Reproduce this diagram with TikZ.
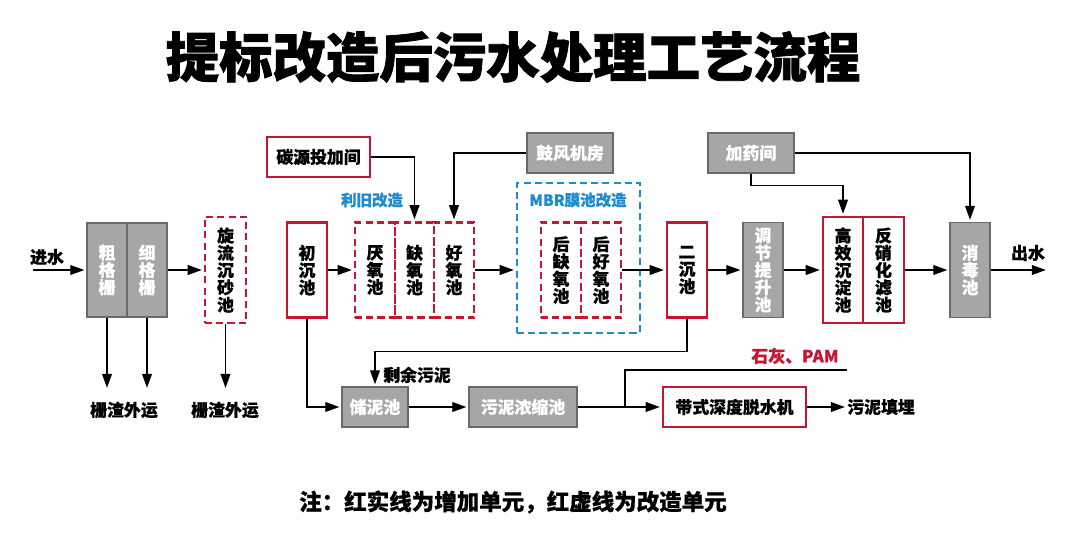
\documentclass[tikz,border=0pt]{standalone}
\usepackage{fontspec}
\setmainfont{Noto Sans CJK SC}[BoldFeatures={FakeBold=0.6}]
\newfontfamily\titlefont[FakeBold=1.5]{Noto Sans CJK SC}
\usetikzlibrary{arrows.meta,positioning}
\definecolor{gaired}{RGB}{200,22,50}
\definecolor{gaiblue}{RGB}{30,140,205}
\definecolor{boxgray}{RGB}{166,166,166}
\definecolor{edgegray}{RGB}{105,105,105}
\tikzset{
  unit/.style={minimum width=1cm,minimum height=2.375cm,inner sep=0pt,align=center,
    font=\fontsize{12}{12.3}\selectfont\bfseries},
  graybox/.style={unit,fill=boxgray,draw=edgegray,line width=0.8pt,text=white},
  newbox/.style={unit,draw=gaired,line width=1.6pt,fill=white},
  oldbox/.style={unit,draw=gaired,line width=1.6pt,dash pattern=on 5pt off 3pt},
  flow/.style={-{Triangle[length=10pt,width=7pt]},line width=0.9pt,shorten >=1.5pt},
  tag/.style={inner sep=0pt,font=\fontsize{12}{12}\selectfont\bfseries},
}

\begin{document}
\begin{tikzpicture}[x=0.025cm,y=-0.025cm]
\useasboundingbox (0,0) rectangle (1080,553);
%
% title
\node[inner sep=0pt,font=\titlefont\fontsize{38}{38}\selectfont\bfseries] (title) at (513,57)
  {提标改造后污水处理工艺流程};
%
% pretreatment
\node[tag] (jinshui) at (47,257) {进水};
\coordinate (inlet) at (33,270);
\node[graybox,minimum height=2.35cm] (cu) at (107,270) {粗\\格\\栅};
\node[graybox,minimum height=2.35cm] (xi) at (147,270) {细\\格\\栅};
\node[oldbox,minimum width=1.025cm,minimum height=2.65cm] (xuanliu) at (225.5,270)
  {旋\\流\\沉\\砂\\池};
\node[tag] (zha1) at (124,410) {栅渣外运};
\node[tag] (zha2) at (225,410) {栅渣外运};
\coordinate (drop) at (0,390);
%
% primary settling + biological
\node[newbox] (chuchen) at (307,270) {初\\沉\\池};
\node[newbox,minimum width=2.575cm,minimum height=1cm] (tanyuan) at (318.5,157) {碳源投加间};
\node[graybox,minimum width=2.15cm,minimum height=1cm] (gufeng) at (570,153) {鼓风机房};
\node[inner sep=0pt,text=gaiblue,font=\fontsize{11}{11}\selectfont\bfseries] (liyiu) at (372,200) {利旧改造};
\node[oldbox] (yan) at (375,270) {厌\\氧\\池};
\node[oldbox,minimum width=0.975cm] (que) at (414.5,270) {缺\\氧\\池};
\node[oldbox] (hao) at (454,270) {好\\氧\\池};
%
% MBR
\node[draw=gaiblue,line width=1.6pt,dash pattern=on 5pt off 3pt,
  minimum width=3.075cm,minimum height=3.75cm,inner sep=0pt] (mbr) at (578.5,258) {};
\node[inner sep=0pt,text=gaiblue,font=\fontsize{11}{11}\selectfont\bfseries] (mbrtag) at (578,200) {MBR膜池改造};
\node[oldbox] (houque) at (561,270) {后\\缺\\氧\\池};
\node[oldbox] (houhao) at (601,270) {后\\好\\氧\\池};
%
% advanced treatment
\node[newbox] (erchen) at (687,270) {二\\沉\\池};
\node[graybox] (tiaojie) at (763,270) {调\\节\\提\\升\\池};
\node[graybox,minimum width=2.15cm,minimum height=1cm] (jiayao) at (751,153) {加药间};
\node[newbox,minimum height=2.65cm] (gaoxiao) at (843,270) {高\\效\\沉\\淀\\池};
\node[newbox,minimum width=1.025cm,minimum height=2.65cm] (fanxiao) at (883.5,270) {反\\硝\\化\\滤\\池};
\node[graybox] (xiaodu) at (970,270) {消\\毒\\池};
\node[tag] (chushui) at (1028,253) {出水};
\coordinate (outlet) at (1048,270);
%
% sludge line
\node[graybox,minimum width=1.65cm,minimum height=1cm] (chuni) at (375,407) {储泥池};
\node[graybox,minimum width=2.7cm,minimum height=1cm] (nongsuo) at (523,407) {污泥浓缩池};
\node[newbox,minimum width=3.575cm,minimum height=1cm] (tuoshui) at (734.5,407) {带式深度脱水机};
\node[tag] (shengyu) at (417,375) {剩余污泥};
\node[tag,text=gaired] (shihui) at (795,356) {石灰、PAM};
\node[tag] (tianmai) at (881,407) {污泥填埋};
\coordinate (split) at (625,407);
\coordinate (limeend) at (847,370);
%
% note
\node[inner sep=0pt,font=\fontsize{16}{16}\selectfont\bfseries] (note) at (513,502)
  {注：红实线为增加单元，红虚线为改造单元};
%
% main flow
\draw[flow] (inlet) -- (cu.west);
\draw[flow] (xi) -- (xuanliu);
\draw[flow] (chuchen) -- (yan);
\draw[flow] (hao.east) -- (hao.east -| mbr.west);
\draw[flow] (houhao) -- (erchen);
\draw[flow] (erchen) -- (tiaojie);
\draw[flow] (tiaojie) -- (gaoxiao);
\draw[flow] (fanxiao) -- (xiaodu);
\draw[flow] (xiaodu) -- (outlet);
%
% screenings
\draw[flow] (cu.south) -- (cu.south |- drop);
\draw[flow] (xi.south) -- (xi.south |- drop);
\draw[flow] (xuanliu.south) -- (xuanliu.south |- drop);
%
% dosing and air
\draw[flow] (tanyuan.east) -| (que.north);
\draw[flow] (gufeng.west) -| (hao.north);
\draw[flow] (jiayao.south) -- ++(0,12) -| (gaoxiao.north);
\draw[flow] (jiayao.east) -| (xiaodu.north);
%
% sludge
\draw[flow] (chuchen.south) |- (chuni.west);
\draw[flow] (erchen.south) -- ++(0,33) -| (chuni.north);
\draw[flow] (chuni) -- (nongsuo);
\draw[flow] (nongsuo) -- (tuoshui);
\draw[line width=0.9pt] (split) |- (limeend);
\draw[flow] (tuoshui) -- (tianmai);
\end{tikzpicture}
\end{document}
